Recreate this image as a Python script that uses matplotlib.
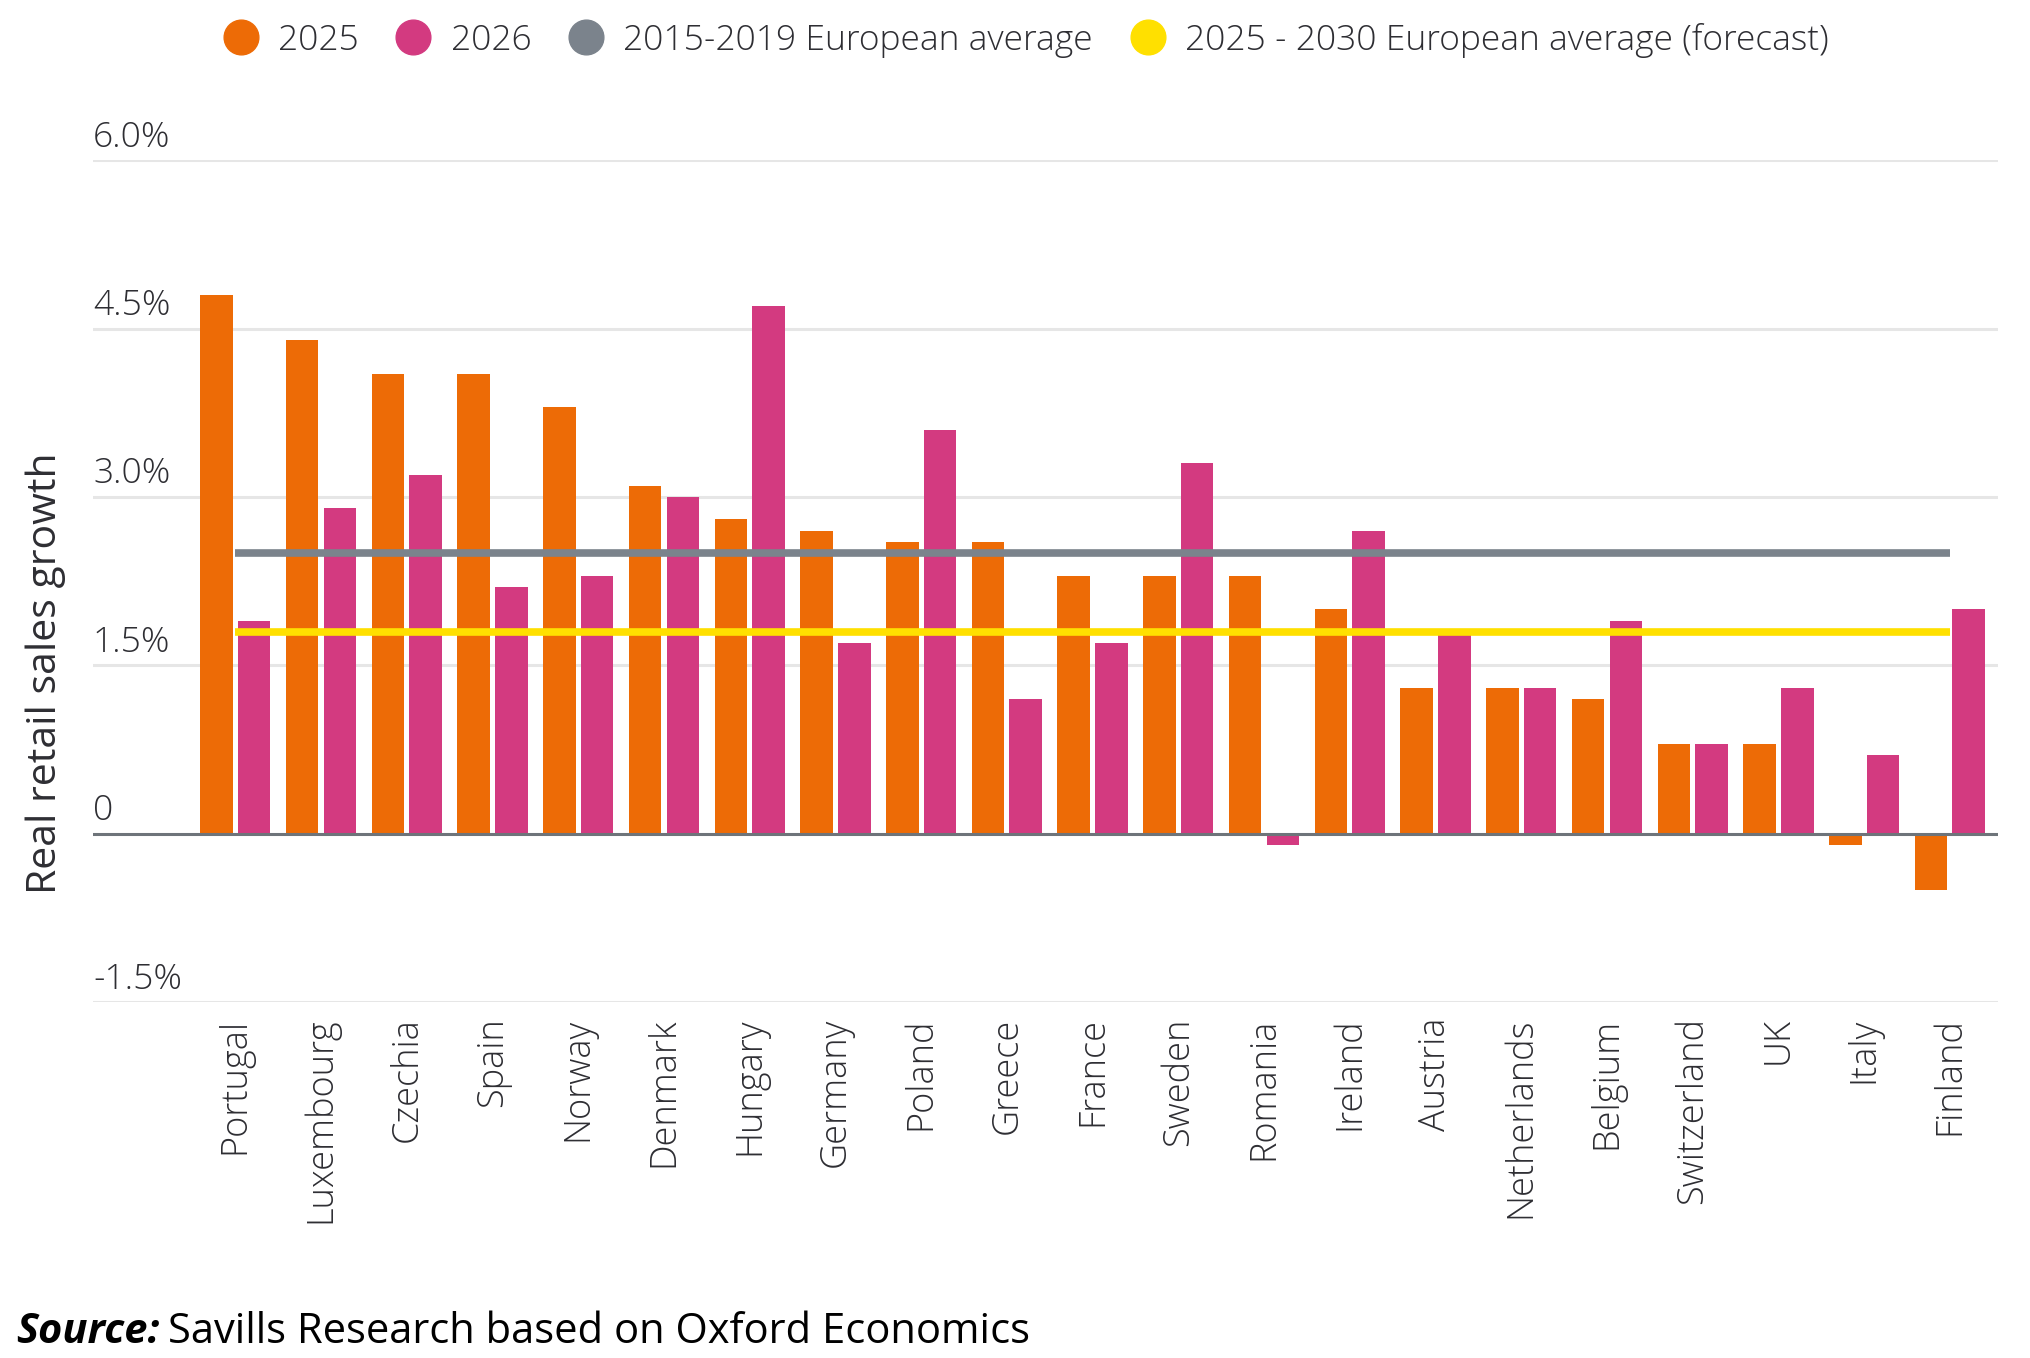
import numpy as np
import matplotlib
matplotlib.use('Agg')
import matplotlib.pyplot as plt
from matplotlib.lines import Line2D

# data
countries = ['Portugal', 'Luxembourg', 'Czechia', 'Spain', 'Norway', 'Denmark', 'Hungary',
             'Germany', 'Poland', 'Greece', 'France', 'Sweden', 'Romania', 'Ireland',
             'Austria', 'Netherlands', 'Belgium', 'Switzerland', 'UK', 'Italy', 'Finland']
g2025 = [4.8, 4.4, 4.1, 4.1, 3.8, 3.1, 2.8, 2.7, 2.6, 2.6, 2.3, 2.3, 2.3, 2.0,
         1.3, 1.3, 1.2, 0.8, 0.8, -0.1, -0.5]
g2026 = [1.9, 2.9, 3.2, 2.2, 2.3, 3.0, 4.7, 1.7, 3.6, 1.2, 1.7, 3.3, -0.1, 2.7,
         1.8, 1.3, 1.9, 0.8, 1.3, 0.7, 2.0]
avg_hist = 2.5   # 2015-2019 European average
avg_fcst = 1.8   # 2025-2030 European average (forecast)
yticks = [-1.5, 0, 1.5, 3.0, 4.5, 6.0]
ytick_labels = ['-1.5%', '0', '1.5%', '3.0%', '4.5%', '6.0%']

c25 = '#ED6B06'
c26 = '#D33A80'
cgray = '#7B838C'
cyel = '#FFE000'
txt = '#2E2E33'

plt.rcParams['font.family'] = ['Open Sans', 'DejaVu Sans']

fig = plt.figure(figsize=(20.3, 13.58), dpi=100)
ax = fig.add_axes([0.0458, 0.262, 0.9384, 0.620])

x = np.arange(len(countries))
w = 0.38
ax.bar(x - 0.22, g2025, width=w, color=c25, zorder=2)
ax.bar(x + 0.22, g2026, width=w, color=c26, zorder=2)

ax.hlines(avg_hist, x[0], x[-1], color=cgray, lw=5.5, zorder=3, capstyle='butt')
ax.hlines(avg_fcst, x[0], x[-1], color=cyel, lw=5.5, zorder=3, capstyle='butt')

ax.set_xlim(-1.66, 20.56)
ax.set_ylim(-1.5, 6.0)

# grid + tick labels sitting above the lines
for yv, lab in zip(yticks, ytick_labels):
    if yv == 0:
        ax.axhline(yv, color='#6E747A', lw=2.2, zorder=4)
    else:
        ax.axhline(yv, color='#E6E6E6', lw=2.2, zorder=1)
    ax.annotate(lab, (0, yv), xycoords=('axes fraction', 'data'),
                xytext=(0, 4), textcoords='offset points',
                ha='left', va='bottom', fontsize=25.5, color=txt, fontweight=300)

ax.set_yticks([])
ax.set_xticks(x)
ax.set_xticklabels(countries, rotation=90, fontsize=26, color=txt, fontweight=300)
ax.tick_params(axis='x', length=0, pad=11)
for s in ax.spines.values():
    s.set_visible(False)

fig.text(0.0223, 0.504, 'Real retail sales growth', rotation=90, ha='center', va='center',
         fontsize=29.5, color=txt)

handles = [Line2D([], [], ls='none', marker='o', ms=25, color=c)
           for c in [c25, c26, cgray, cyel]]
labels = ['2025', '2026', '2015-2019 European average', '2025 - 2030 European average (forecast)']
fig.legend(handles, labels, loc='center', bbox_to_anchor=(0.501, 0.9705), ncol=4,
           frameon=False, handletextpad=0.05, columnspacing=0.55,
           labelcolor=txt, prop={'weight': 300, 'size': 25.5})

src = fig.text(0.008, 0.019, 'Source:', fontsize=30, fontweight='bold', fontstyle='italic',
               color='black', ha='left', va='center')
fig.canvas.draw()
bb = src.get_window_extent().transformed(fig.transFigure.inverted())
fig.text(bb.x1 + 0.004, 0.019, 'Savills Research based on Oxford Economics', fontsize=30,
         color='black', ha='left', va='center')

plt.savefig('out.png', dpi=100)
